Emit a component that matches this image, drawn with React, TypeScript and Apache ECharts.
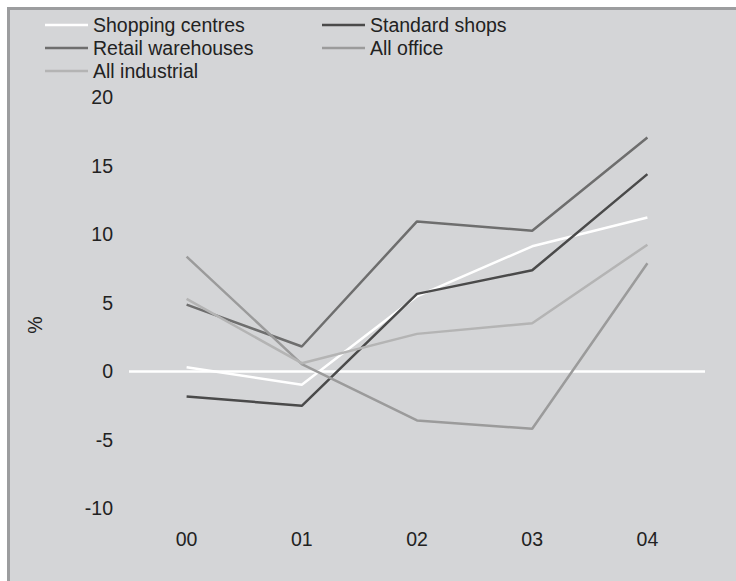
import React, { useEffect, useRef } from "react";
import * as echarts from "echarts";

const categories = ["00", "01", "02", "03", "04"];
const shoppingCentres = [0.28, -1.0, 5.45, 9.1, 11.2];
const standardShops = [-1.86, -2.54, 5.63, 7.35, 14.37];
const retailWarehouses = [4.85, 1.79, 10.92, 10.24, 17.04];
const allOffice = [8.35, 0.5, -3.61, -4.22, 7.86];
const allIndustrial = [5.26, 0.57, 2.71, 3.49, 9.22];

const seriesNames = ["Shopping centres", "Standard shops", "Retail warehouses", "All office", "All industrial"];
const seriesColors = ["#ffffff", "#4a4a4a", "#6e6e6e", "#9b9b9b", "#b4b4b4"];
const seriesData = [shoppingCentres, standardShops, retailWarehouses, allOffice, allIndustrial];

const FONT = "'Liberation Sans', Arial, sans-serif";
const FS = 19.5;

export default function App() {
  const ref = useRef<HTMLDivElement>(null);
  useEffect(() => {
    if (!ref.current) return;
    const chart = echarts.init(ref.current, undefined, { renderer: "svg" });
    const series: any[] = seriesNames.map((name, i) => ({
      name,
      type: "line",
      data: seriesData[i],
      symbol: "none",
      lineStyle: { color: seriesColors[i], width: 2.5 },
      itemStyle: { color: seriesColors[i] },
      z: 3 + i,
      ...(i === 0
        ? {
            markLine: {
              silent: true,
              symbol: "none",
              label: { show: false },
              lineStyle: { color: "#ffffff", width: 2.5, type: "solid" },
              data: [{ yAxis: 0 }],
              z: 2,
            },
          }
        : {}),
    }));
    const legendCommon = {
      orient: "vertical",
      top: 15,
      padding: 0,
      icon: "rect",
      itemWidth: 43,
      itemHeight: 2.5,
      itemGap: 3,
      textStyle: { fontSize: FS, color: "#222222", fontFamily: FONT, lineHeight: 20, padding: [0, 0, 0, 0] },
    };
    chart.setOption({
      animation: false,
      backgroundColor: "#ffffff",
      textStyle: { fontFamily: FONT },
      graphic: [
        {
          type: "rect",
          z: -10,
          silent: true,
          shape: { x: 8.5, y: 8.5, width: 900, height: 800 },
          style: { fill: "#d4d5d7", stroke: "#9c9d9f", lineWidth: 3 },
        },
        {
          type: "text",
          x: 35,
          y: 325,
          rotation: Math.PI / 2,
          style: {
            text: "%",
            fontSize: FS,
            fontFamily: FONT,
            fill: "#222222",
            align: "center",
            verticalAlign: "middle",
          },
        },
      ],
      legend: [
        { ...legendCommon, data: [seriesNames[0], seriesNames[2], seriesNames[4]], left: 45 },
        { ...legendCommon, data: [seriesNames[1], seriesNames[3]], left: 322 },
      ],
      grid: { left: 129, right: 31, top: 97, bottom: 73, containLabel: false },
      xAxis: {
        type: "category",
        data: categories,
        boundaryGap: true,
        axisLine: { show: false },
        axisTick: { show: false },
        axisLabel: { fontSize: FS, color: "#222222", margin: 21, fontFamily: FONT },
        splitLine: { show: false },
      },
      yAxis: {
        type: "value",
        min: -10,
        max: 20,
        interval: 5,
        axisLine: { show: false },
        axisTick: { show: false },
        splitLine: { show: false },
        axisLabel: { fontSize: FS, color: "#222222", margin: 16, fontFamily: FONT },
      },
      series,
    });
    return () => chart.dispose();
  }, []);
  return (
    <div
      ref={ref}
      style={{ position: "fixed", left: 0, top: 0, width: 736, height: 581 }}
    />
  );
}
